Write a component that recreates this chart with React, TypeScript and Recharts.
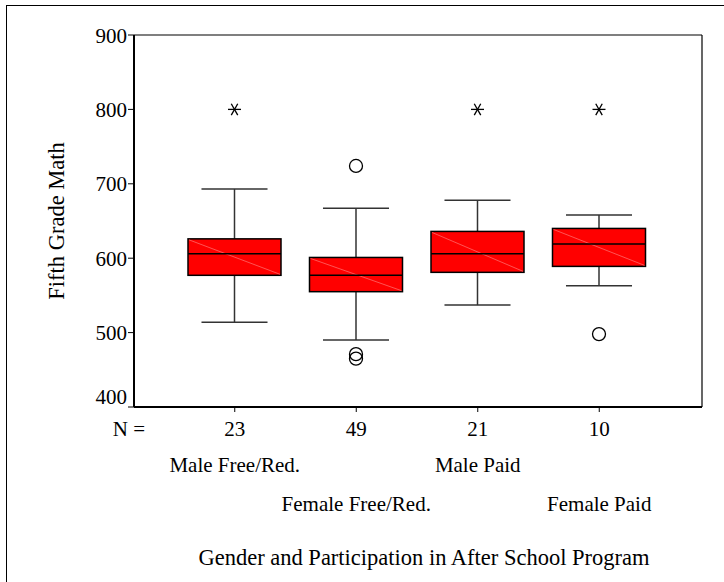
import React from 'react';
import { ComposedChart, Bar, XAxis, YAxis, CartesianGrid, Label } from 'recharts';

// Box plot data (Fifth Grade Math scores)
const categories = ['Male Free/Red.', 'Female Free/Red.', 'Male Paid', 'Female Paid'];
const counts = [23, 49, 21, 10];
const lowWhisker = [514, 490, 537, 563];
const lowerQuartile = [577, 555, 581, 589];
const medians = [606, 577, 606, 619];
const upperQuartile = [626, 601, 636, 640];
const highWhisker = [693, 667, 678, 658];
const outliers = [[], [724, 471, 465], [], [498]];
const extremes = [[800], [], [800], [800]];
const yTicks = [400, 500, 600, 700, 800, 900];

const FONT = '"Liberation Serif", "Times New Roman", serif';

const chartData = categories.map((name, i) => ({
  name,
  n: counts[i],
  low: lowWhisker[i],
  q1: lowerQuartile[i],
  median: medians[i],
  q3: upperQuartile[i],
  high: highWhisker[i],
  outliers: outliers[i],
  extremes: extremes[i],
}));

const BoxShape = (props: any) => {
  const { x, y, width, height, payload } = props;
  const top = Math.min(y, y + height);
  const bottom = Math.max(y, y + height);
  // map values to pixels using the box edges the library gave us (q1 / q3)
  const unit = (bottom - top) / (payload.q3 - payload.q1);
  const toY = (v: number) => bottom - (v - payload.q1) * unit;
  const cx = x + width / 2;
  const capHalf = width * 0.355;
  const whisker = '#333';

  return (
    <g>
      {/* whiskers */}
      <line x1={cx} x2={cx} y1={toY(payload.high)} y2={top} stroke={whisker} strokeWidth={1.5} />
      <line x1={cx} x2={cx} y1={bottom} y2={toY(payload.low)} stroke={whisker} strokeWidth={1.5} />
      <line x1={cx - capHalf} x2={cx + capHalf} y1={toY(payload.high)} y2={toY(payload.high)} stroke={whisker} strokeWidth={1.5} />
      <line x1={cx - capHalf} x2={cx + capHalf} y1={toY(payload.low)} y2={toY(payload.low)} stroke={whisker} strokeWidth={1.5} />
      {/* box */}
      <rect x={x} y={top} width={width} height={bottom - top} fill="#ff0000" stroke="#000" strokeWidth={1.5} />
      <line x1={x + 1} y1={top + 1} x2={x + width - 1} y2={bottom - 1} stroke="#ff8c8c" strokeWidth={0.6} />
      <line x1={x} x2={x + width} y1={toY(payload.median)} y2={toY(payload.median)} stroke="#000" strokeWidth={1.5} />
      {/* outliers */}
      {payload.outliers.map((v: number, i: number) => (
        <circle key={`o-${i}`} cx={cx} cy={toY(v)} r={6.5} fill="none" stroke="#000" strokeWidth={1.3} />
      ))}
      {/* extremes */}
      {payload.extremes.map((v: number, i: number) => {
        const cy = toY(v);
        const s = 6.5;
        return (
          <g key={`e-${i}`} stroke="#000" strokeWidth={1.3}>
            <line x1={cx - s} x2={cx + s} y1={cy} y2={cy} />
            <line x1={cx - s * 0.5} x2={cx + s * 0.5} y1={cy - s * 0.87} y2={cy + s * 0.87} />
            <line x1={cx - s * 0.5} x2={cx + s * 0.5} y1={cy + s * 0.87} y2={cy - s * 0.87} />
          </g>
        );
      })}
    </g>
  );
};

const XTick = (props: any) => {
  const { x, y, payload } = props;
  const idx = categories.indexOf(payload.value);
  const textStyle = { fontFamily: FONT, fontSize: 21, fill: '#000' };
  return (
    <g>
      {idx === 0 && (
        <text x={x - 122} y={y + 22} textAnchor="start" style={textStyle}>N =</text>
      )}
      <text x={x} y={y + 22} textAnchor="middle" style={textStyle}>{counts[idx]}</text>
      <text x={x} y={idx % 2 === 0 ? y + 58 : y + 97} textAnchor="middle" style={textStyle}>
        {payload.value}
      </text>
    </g>
  );
};

const YTick = (props: any) => {
  const { x, y, payload } = props;
  const shift = payload.value === 400 ? -11 : 0;
  return (
    <text
      x={x}
      y={y + shift}
      dy="0.36em"
      textAnchor="end"
      style={{ fontFamily: FONT, fontSize: 21, fill: '#000' }}
    >
      {payload.value}
    </text>
  );
};

const App = () => {
  return (
    <div style={{ position: 'absolute', left: 0, top: 0, width: 724, height: 582, overflow: 'hidden', background: '#fff' }}>
      <div style={{ position: 'absolute', left: 6, top: 5, width: 800, height: 700, border: '1.5px solid #000' }} />
      <div style={{ position: 'absolute', left: 0, top: 0 }}>
        <ComposedChart width={724} height={582} data={chartData} margin={{ top: 35, right: 22, bottom: 0, left: 0 }}>
          {/* top and right frame of the plot area */}
          <CartesianGrid
            stroke="#000"
            strokeWidth={1.2}
            horizontalCoordinatesGenerator={({ offset }: any) => [offset.top]}
            verticalCoordinatesGenerator={({ offset }: any) => [offset.left + offset.width]}
          />
          <XAxis
            dataKey="name"
            height={175}
            padding={{ left: 40, right: 42 }}
            axisLine={{ stroke: '#000', strokeWidth: 2 }}
            tickLine={{ stroke: '#000' }}
            tickSize={5}
            tickMargin={2}
            interval={0}
            tick={<XTick />}
          >
            <Label
              content={() => (
                <text x={424} y={565} textAnchor="middle" style={{ fontFamily: FONT, fontSize: 22.5, fill: '#000' }}>
                  Gender and Participation in After School Program
                </text>
              )}
            />
          </XAxis>
          <YAxis
            type="number"
            domain={[400, 900]}
            ticks={yTicks}
            width={134}
            allowDataOverflow
            axisLine={{ stroke: '#000', strokeWidth: 2 }}
            tickLine={{ stroke: '#000' }}
            tickSize={6}
            tickMargin={1}
            tick={<YTick />}
          >
            <Label
              content={() => (
                <text
                  x={64}
                  y={221}
                  transform="rotate(-90 64 221)"
                  textAnchor="middle"
                  style={{ fontFamily: FONT, fontSize: 22.5, fill: '#000' }}
                >
                  Fifth Grade Math
                </text>
              )}
            />
          </YAxis>
          <Bar
            dataKey={(d: any) => [d.q1, d.q3]}
            barSize={93}
            shape={<BoxShape />}
            isAnimationActive={false}
          />
        </ComposedChart>
      </div>
    </div>
  );
};

export default App;
